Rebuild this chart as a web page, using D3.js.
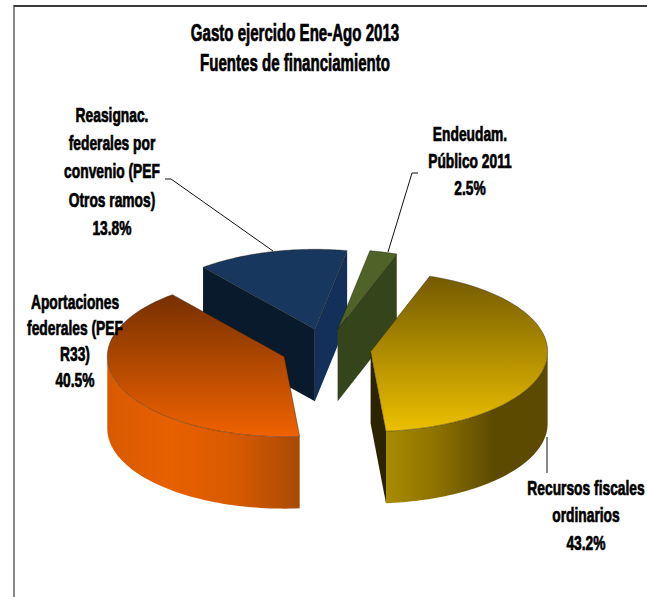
<!DOCTYPE html>
<html>
<head>
<meta charset="utf-8">
<script src="https://cdn.jsdelivr.net/npm/d3@7/dist/d3.min.js"></script>
<style>
  html, body { margin: 0; padding: 0; background: #fff; }
  svg { display: block; }
  text { font-family: "Liberation Sans", Arial, sans-serif; font-weight: 700; fill: #000; stroke: #000; stroke-width: .7; text-anchor: middle; }
</style>
</head>
<body>
<svg id="chart" width="647" height="597"></svg>
<script>
// Financing sources, in the order the pie runs clockwise
const categories = [
  ["Recursos fiscales", "ordinarios"],
  ["Aportaciones", "federales (PEF", "R33)"],
  ["Reasignac.", "federales por", "convenio (PEF", "Otros ramos)"],
  ["Endeudam.", "Público 2011"]
];
const shares = [43.2, 40.5, 13.8, 2.5];
const titleLines = ["Gasto ejercido Ene-Ago 2013", "Fuentes de financiamiento"];

const topStops = [
  ["#745a00", "#ecc000"],
  ["#763000", "#f06200"],
  ["#17375e", "#17375e"],
  ["#4f6228", "#4f6228"]
];
const wallStops = [
  ["#a98c00", "#8a7000", "#5c4a00", "#5c4a00"],
  ["#d85a00", "#e86000", "#d85a00", "#a84a06"],
  ["#17375e", "#17375e", "#17375e", "#17375e"],
  ["#344218", "#344218", "#344218", "#344218"]
];
const startWallFill = ["#2c2400", "#7a3300", "#0a1a2d", "#344218"];
const endWallFill = ["#2c2400", "#7a3300", "#12305a", "#35451b"];

// Pie geometry: elliptical projection, exploded slices, extruded by `depth`
const cx = 326, cy = 349, rx = 177, ry = 80, depth = 72, explode = 45;
const startDeg = 19.5;

const svg = d3.select("#chart");
const defs = svg.append("defs");

// Frame lines on the top and left of the chart area
svg.append("line").attr("x1", 14).attr("x2", 647).attr("y1", 6).attr("y2", 6)
  .attr("stroke", "#3a3a3a").attr("stroke-width", 2);
svg.append("line").attr("x1", 14).attr("x2", 14).attr("y1", 5).attr("y2", 597)
  .attr("stroke", "#3a3a3a").attr("stroke-width", 1.2);

const pie = d3.pie().sort(null)
  .startAngle(startDeg * Math.PI / 180)
  .endAngle((startDeg + 360) * Math.PI / 180);
const slices = pie(shares);

const px = d3.scaleLinear().domain([-1, 1]).range([-rx, rx]);
const py = d3.scaleLinear().domain([-1, 1]).range([-ry, ry]);
const pt = a => [px(Math.sin(a)), py(-Math.cos(a))];
const line = d3.line();
const sweep = (a0, a1) => d3.range(0, 61).map(i => a0 + (a1 - a0) * i / 60);

function linearGradient(id, x1, y1, x2, y2, colors) {
  const g = defs.append("linearGradient").attr("id", id)
    .attr("gradientUnits", "userSpaceOnUse")
    .attr("x1", x1).attr("y1", y1).attr("x2", x2).attr("y2", y2);
  colors.forEach((c, i) => g.append("stop")
    .attr("offset", i / (colors.length - 1)).attr("stop-color", c));
  return `url(#${id})`;
}

// Back slices first so the front ones overlap them
const paintOrder = [2, 3, 1, 0];
const layer = svg.append("g");

paintOrder.forEach(i => {
  const s = slices[i];
  const mid = (s.startAngle + s.endAngle) / 2;
  const ox = cx + Math.sin(mid) * explode;
  const oy = cy - Math.cos(mid) * explode * ry / rx;
  const g = layer.append("g").attr("transform", `translate(${ox},${oy})`);

  const wall = (a, fill) => {
    const p = pt(a);
    g.append("path").attr("fill", fill)
      .attr("d", line([[0, 0], p, [p[0], p[1] + depth], [0, depth]]) + "Z");
  };
  if (Math.sin(s.startAngle) < 0) wall(s.startAngle, startWallFill[i]);
  if (Math.sin(s.endAngle) > 0) wall(s.endAngle, endWallFill[i]);

  // Outer rim: only the part on the near half of the ellipse shows
  const a0 = Math.max(s.startAngle, Math.PI / 2);
  const a1 = Math.min(s.endAngle, 3 * Math.PI / 2);
  if (a1 > a0) {
    const arc = sweep(a0, a1).map(pt);
    const xs = arc.map(d => d[0]);
    const fill = linearGradient("rim" + i, d3.min(xs), 0, d3.max(xs), 0, wallStops[i]);
    const lower = arc.map(d => [d[0], d[1] + depth]).reverse();
    g.append("path").attr("fill", fill).attr("d", line(arc.concat(lower)) + "Z");
  }

  // Top face
  const outline = [[0, 0]].concat(sweep(s.startAngle, s.endAngle).map(pt));
  const ys = outline.map(d => d[1]);
  g.append("path")
    .attr("fill", linearGradient("top" + i, 0, d3.min(ys), 0, d3.max(ys), topStops[i]))
    .attr("stroke", "#1c1400").attr("stroke-opacity", .55).attr("stroke-width", .7)
    .attr("d", line(outline) + "Z");
});

// Leader lines from the labels to their slices
const leaderPath = d3.line();
[
  [[165, 179], [171, 179], [273, 251]],
  [[418, 173], [412, 173], [388, 252]],
  [[547, 437], [547, 473]]
].forEach(p => svg.append("path").attr("fill", "none").attr("stroke", "#111")
  .attr("stroke-width", 1).attr("d", leaderPath(p)));

function block(lines, x, y, step, size, squeeze) {
  const t = svg.append("g").attr("transform", `translate(${x},${y}) scale(${squeeze},1)`);
  lines.forEach((l, k) => t.append("text").attr("y", k * step).attr("font-size", size).text(l));
}

block(titleLines, 295, 41, 30, 23, 0.655);

const labelAnchors = [[586, 495], [75, 309], [112, 122], [470, 141]];
const labelSteps = [27.5, 26, 28.2, 27];
shares.forEach((v, i) => {
  const lines = categories[i].concat(d3.format(".1f")(v) + "%");
  block(lines, labelAnchors[i][0], labelAnchors[i][1], labelSteps[i], 20, 0.69);
});
</script>
</body>
</html>
